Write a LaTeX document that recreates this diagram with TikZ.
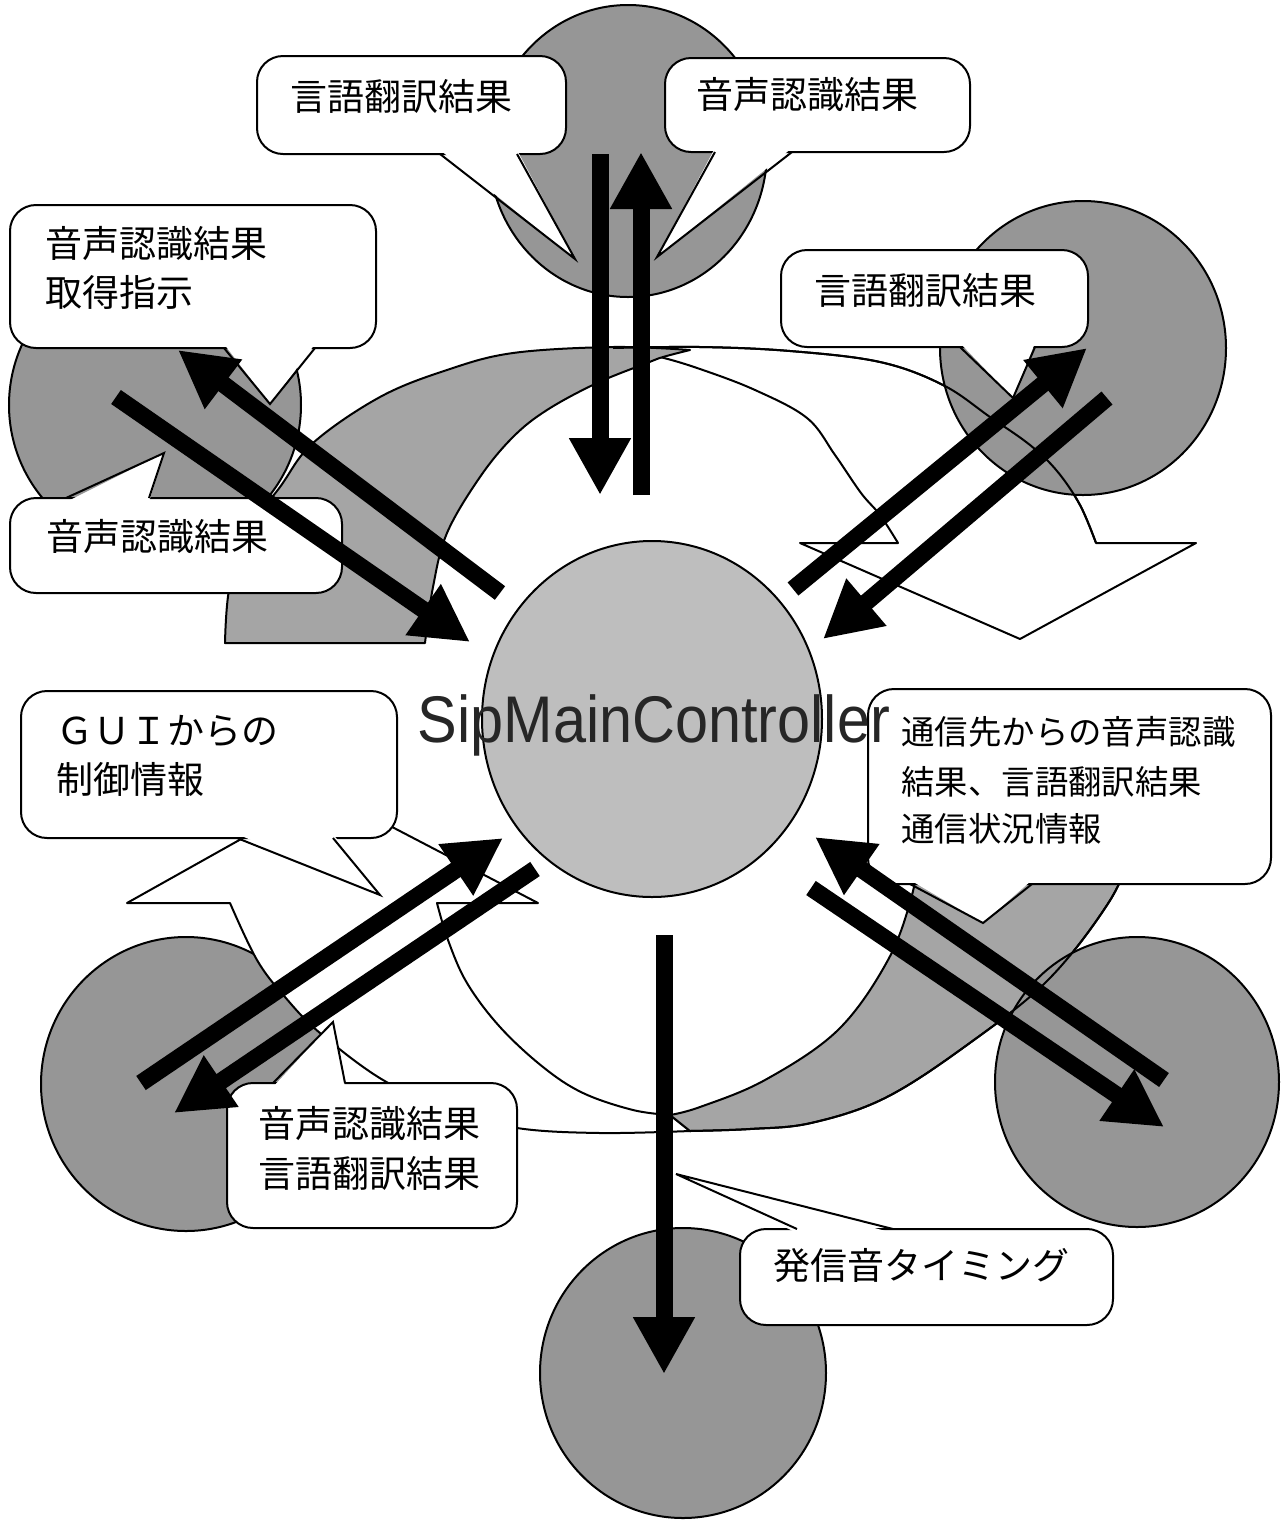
\documentclass[tikz,border=0pt]{standalone}
\usepackage{fontspec}
\usepackage{graphicx}
\newfontfamily\jpfont{Noto Sans CJK JP}
\newfontfamily\sipfont{Liberation Sans}
\usetikzlibrary{arrows.meta,shapes.geometric}
\definecolor{satgray}{RGB}{150,150,150}
\definecolor{cengray}{RGB}{190,190,190}
\definecolor{bandgray}{RGB}{165,165,165}
\begin{document}
\begin{tikzpicture}[x=0.5pt,y=-0.5pt,
  sat/.style={ellipse,draw=black,line width=1pt,fill=satgray,inner sep=0pt,outer sep=0pt},
  cen/.style={ellipse,draw=black,line width=1pt,fill=cengray,inner sep=0pt,outer sep=0pt},
  bandw/.style={fill=white,draw=black,line width=1pt,line join=round},
  bandg/.style={fill=bandgray,draw=black,line width=1pt,line join=round},
  rim/.style={draw=black,line width=1pt},
  cbox/.style={fill=white,draw=black,line width=1pt,rounded corners=13pt},
  ptrline/.style={draw=black,line width=1pt,line join=miter},
  jp/.style={font=\jpfont\fontsize{18.5}{24}\selectfont,inner sep=0pt,anchor=west},
  jpsmall/.style={font=\jpfont\fontsize{16.7}{24}\selectfont,inner sep=0pt,anchor=west},
  flow/.style={line width=8.5pt,-{Triangle[length=28.5pt,width=29pt]}},
  sm/.style={inner sep=0pt,anchor=base,font=\sipfont\fontsize{33}{40}\selectfont},
]
\fill[white] (0,0) rectangle (1284,1522);
\useasboundingbox (0,0) rectangle (1284,1522);

% lower-left satellite (lies under the lower curved arrow)
\node[sat, minimum width=145pt, minimum height=147pt] (sLL) at (186,1084) {};

% upper curved arrow: white front part
\path[bandw] plot[smooth,tension=0.6] coordinates {(613,348) (700,347) (790,351) (880,362) (943,385) (990,417) (1030,445) (1057,471) (1080,505) (1096,543)}
  -- (1196,543) -- (1020,639) -- (800,543) -- (898,543)
  -- plot[smooth,tension=0.6] coordinates {(898,543) (880,515) (861,493) (835,455) (807,418) (755,390) (700,369) (660,357) (623,350)} -- cycle;
% upper curved arrow: gray back part
\path[bandg] plot[smooth,tension=0.6] coordinates {(225,643) (229,590) (245,535) (280,487) (313,443) (380,397) (447,370) (513,353) (613,347) (690,350)}
  -- plot[smooth,tension=0.6] coordinates {(690,350) (663,357) (647,363) (597,383) (547,410) (513,437) (480,477) (447,533) (433,587) (425,643)} -- cycle;

% lower curved arrow: white front part
\path[bandw] plot[smooth,tension=0.6] coordinates {(230,903) (257,960) (285,997) (320,1033) (383,1080) (450,1110) (517,1128) (600,1133) (690,1131)}
  -- (670,1115)
  -- plot[smooth,tension=0.6] coordinates {(670,1115) (633,1110) (583,1093) (543,1067) (500,1027) (467,983) (448,940) (437,903)}
  -- (538,903) -- (325,792) -- (127,903) -- cycle;
% lower curved arrow: gray back part
\path[bandg] plot[smooth,tension=0.6] coordinates {(670,1115) (700,1107) (765,1080) (838,1030) (888,960) (912,895) (920,845)}
  -- (1135,845)
  -- plot[smooth,tension=0.6] coordinates {(1135,845) (1109,902) (1048,980) (967,1045) (885,1098) (811,1123) (750,1129) (690,1131)} -- cycle;

% satellites
\node[sat, minimum width=139pt, minimum height=146pt] (sTop) at (628,151) {};
\node[sat, minimum width=146pt, minimum height=146pt] (sUL) at (155,405) {};
\node[sat, minimum width=143pt, minimum height=147pt] (sUR) at (1083,348) {};
\node[sat, minimum width=142pt, minimum height=145pt] (sLR) at (1137,1082) {};
\node[sat, minimum width=143pt, minimum height=145pt] (sBot) at (683,1373) {};

% rims of the curved arrows seen across the satellites
\path[rim] plot[smooth,tension=0.6] coordinates {(613,348) (700,347) (790,351) (880,362) (943,385) (990,417) (1030,445) (1057,471) (1080,505) (1096,543)};
\path[rim] plot[smooth,tension=0.6] coordinates {(1135,845) (1109,902) (1048,980) (967,1045) (885,1098) (811,1123) (750,1129) (690,1131)};

% central controller
\node[cen, minimum width=170pt, minimum height=178pt] (main) at (652,719) {};

% callouts
\draw[cbox] (257,56) rectangle (566,154);
\fill[white] (440,150) -- (575,259) -- (517,150) -- cycle;
\draw[ptrline] (440,154) -- (575,259) -- (517,154);

\draw[cbox] (665,58) rectangle (970,152);
\fill[white] (715,148) -- (657,257) -- (792,148) -- cycle;
\draw[ptrline] (715,152) -- (657,257) -- (792,152);

\draw[cbox] (10,205) rectangle (376,348);
\fill[white] (224,344) -- (270,404) -- (315,344) -- cycle;
\draw[ptrline] (224,348) -- (270,404) -- (315,348);

\draw[cbox] (781,250) rectangle (1088,347);
\fill[white] (960,343) -- (1013,398) -- (1035,343) -- cycle;
\draw[ptrline] (960,347) -- (1013,398) -- (1035,347);

\draw[cbox] (10,498) rectangle (342,593);
\fill[white] (66,502) -- (164,453) -- (149,502) -- cycle;
\draw[ptrline] (66,498) -- (164,453) -- (149,498);

\draw[cbox] (21,691) rectangle (397,838);
\fill[white] (237,834) -- (380,895) -- (333,834) -- cycle;
\draw[ptrline] (237,838) -- (380,895) -- (333,838);

\draw[cbox] (868,689) rectangle (1271,884);
\fill[white] (910,880) -- (983,923) -- (1032,880) -- cycle;
\draw[ptrline] (910,884) -- (983,923) -- (1032,884);

\draw[cbox] (227,1083) rectangle (517,1228);
\fill[white] (273,1087) -- (333,1022) -- (345,1087) -- cycle;
\draw[ptrline] (273,1083) -- (333,1022) -- (345,1083);

\draw[cbox] (740,1229) rectangle (1113,1325);
\fill[white] (797,1233) -- (676,1174) -- (893,1233) -- cycle;
\draw[ptrline] (797,1229) -- (676,1174) -- (893,1229);

% callout texts
\node[jp] (tTL) at (290,96) {言語翻訳結果};
\node[jp] (tTR) at (696,94) {音声認識結果};
\node[jp] (tUL1) at (45,243) {音声認識結果};
\node[jp] (tUL2) at (45,292) {取得指示};
\node[jp] (tUR) at (814,290) {言語翻訳結果};
\node[jp] (tL) at (46,536) {音声認識結果};
\node[jp] (tG1) at (56,731) {ＧＵＩからの};
\node[jp] (tG2) at (56,779) {制御情報};
\node[jpsmall] (tC1) at (901,732) {通信先からの音声認識};
\node[jpsmall] (tC2) at (901,782) {結果、言語翻訳結果};
\node[jpsmall] (tC3) at (901,829) {通信状況情報};
\node[jp] (tLL1) at (258,1123) {音声認識結果};
\node[jp] (tLL2) at (258,1173) {言語翻訳結果};
\node[jp] (tTim) at (773,1266) {発信音タイミング};

% flow arrows
\coordinate (a1s) at (600,154);  \coordinate (a1e) at (600,495);
\coordinate (a2s) at (641,495);  \coordinate (a2e) at (641,152);
\coordinate (a3s) at (500,593);  \coordinate (a3e) at (178,350);
\coordinate (a4s) at (116,397);  \coordinate (a4e) at (470,642);
\coordinate (a5s) at (793,589);  \coordinate (a5e) at (1087,348);
\coordinate (a6s) at (1107,398); \coordinate (a6e) at (823,639);
\coordinate (a7s) at (141,1083); \coordinate (a7e) at (503,838);
\coordinate (a8s) at (535,869);  \coordinate (a8e) at (174,1113);
\coordinate (a9s) at (1164,1080);\coordinate (a9e) at (815,837);
\coordinate (a10s) at (811,888); \coordinate (a10e) at (1164,1127);
\coordinate (a11s) at (664,935); \coordinate (a11e) at (664,1374);
\foreach \k in {1,...,11} {\draw[flow] (a\k s) -- (a\k e);}

% controller label
\node[sm, text=black!85] (smc) at (654,742) {\scalebox{0.9}[1]{SipMainController}};
\end{tikzpicture}
\end{document}
